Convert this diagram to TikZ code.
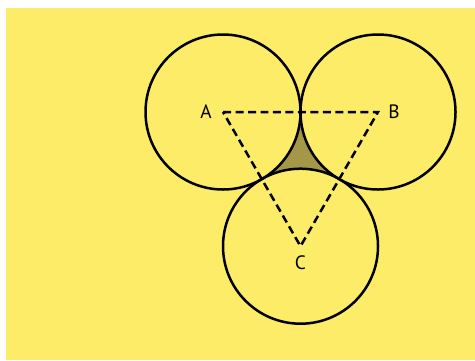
\documentclass[tikz,border=0pt]{standalone}
\usepackage{fontspec}
\setmainfont{PT Sans}
\definecolor{PadYellow}{RGB}{253,236,104}
\definecolor{GapOlive}{RGB}{165,150,72}
\usetikzlibrary{
    positioning,
    calc,
}

\begin{document}
\begin{tikzpicture}[x=0.02cm, y=0.02cm,
        rim/.style={line width=0.05cm, black},
        side/.style={line width=0.05cm, black, dash pattern=on 0.16cm off 0.09cm},
        lbl/.style={inner sep=0pt, font=\fontsize{11}{13}\selectfont}]
        \fill[white] (0,0) rectangle (475,360);
        \fill[PadYellow] (6,0) rectangle (475,352);
        \useasboundingbox (0,0) rectangle (475,360);
        % centres of the three circles
        \coordinate (A) at (223,248);
        \coordinate (B) at (378,248);
        \coordinate (C) at (300.5,113.8);
        % the gap between the circles
        \fill[GapOlive] ($(A)+(77.5,0)$) arc[start angle=0, end angle=-60, radius=77.5]
            arc[start angle=120, end angle=60, radius=77.5]
            arc[start angle=240, end angle=180, radius=77.5] -- cycle;
        \draw[rim] (A) circle[radius=77.5];
        \draw[rim] (B) circle[radius=77.5];
        \draw[rim] (C) circle[radius=77.5];
        \draw[side] (A) -- (B) -- (C) -- cycle;
        \node[lbl, left=0.22cm of A] (labA) {A};
        \node[lbl, right=0.2cm of B] (labB) {B};
        \node[lbl, below=0.18cm of C] (labC) {C};
    \end{tikzpicture}
\end{document}
